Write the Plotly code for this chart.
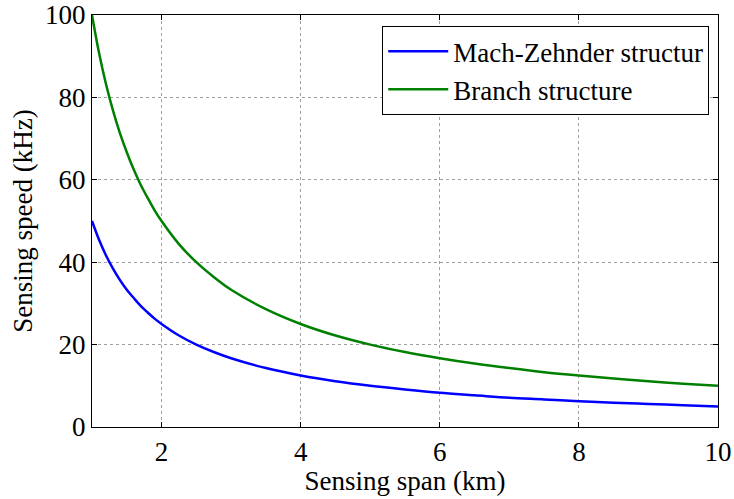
import plotly.graph_objects as go

# Sensing span (km)
span_km = [1.0, 1.1, 1.2, 1.3, 1.4, 1.5, 1.6, 1.7, 1.8, 1.9, 2.0, 2.25, 2.5, 2.75,
           3.0, 3.5, 4.0, 4.5, 5.0, 5.5, 6.0, 6.5, 7.0, 7.5, 8.0, 8.5, 9.0, 9.5, 10.0]

# Sensing speed (kHz)
mach_zehnder = [50.0, 45.5, 41.7, 38.5, 35.7, 33.3, 31.3, 29.4, 27.8, 26.3, 25.0, 22.2,
                20.0, 18.2, 16.7, 14.3, 12.5, 11.1, 10.0, 9.1, 8.3, 7.7, 7.1, 6.7,
                6.25, 5.9, 5.6, 5.3, 5.0]
branch = [100.0, 90.9, 83.3, 76.9, 71.4, 66.7, 62.5, 58.8, 55.6, 52.6, 50.0, 44.4,
          40.0, 36.4, 33.3, 28.6, 25.0, 22.2, 20.0, 18.2, 16.7, 15.4, 14.3, 13.3,
          12.5, 11.8, 11.1, 10.5, 10.0]

x_ticks = [2, 4, 6, 8, 10]
y_ticks = [0, 20, 40, 60, 80, 100]

font_family = "'Liberation Serif', 'Times New Roman', serif"
fsize = 27

fig = go.Figure()
fig.add_trace(go.Scatter(x=span_km, y=mach_zehnder, mode="lines",
                         name="Mach-Zehnder structur",
                         line=dict(color="#0000FF", width=2.5, shape="spline")))
fig.add_trace(go.Scatter(x=span_km, y=branch, mode="lines",
                         name="Branch structure",
                         line=dict(color="#008000", width=2.5, shape="spline")))

axis_common = dict(
    showline=True, linecolor="black", linewidth=1.2, mirror="ticks",
    ticks="inside", ticklen=5, tickcolor="black",
    showgrid=True, gridcolor="#a0a0a0", griddash="dot", gridwidth=1,
    zeroline=False, automargin=False,
    tickfont=dict(family=font_family, size=fsize, color="black"),
)

fig.update_layout(
    width=734, height=499,
    margin=dict(l=92, r=16, t=15, b=72),
    paper_bgcolor="white", plot_bgcolor="white",
    font=dict(family=font_family, color="black", size=fsize),
    showlegend=True,
    legend=dict(
        x=0.986, y=0.973, xanchor="right", yanchor="top",
        bgcolor="white", bordercolor="black", borderwidth=1,
        font=dict(family=font_family, size=fsize, color="black"),
        tracegroupgap=0, itemwidth=60,
    ),
)
fig.update_xaxes(range=[1, 10], tickvals=x_ticks, ticklabelstandoff=0,
                 title=dict(text="Sensing span (km)",
                            font=dict(family=font_family, size=fsize), standoff=0),
                 **axis_common)
fig.update_yaxes(range=[0, 100], tickvals=y_ticks, ticklabelstandoff=0,
                 title=dict(text="Sensing speed (kHz)",
                            font=dict(family=font_family, size=fsize), standoff=4),
                 **axis_common)

fig.write_html("out.html")
